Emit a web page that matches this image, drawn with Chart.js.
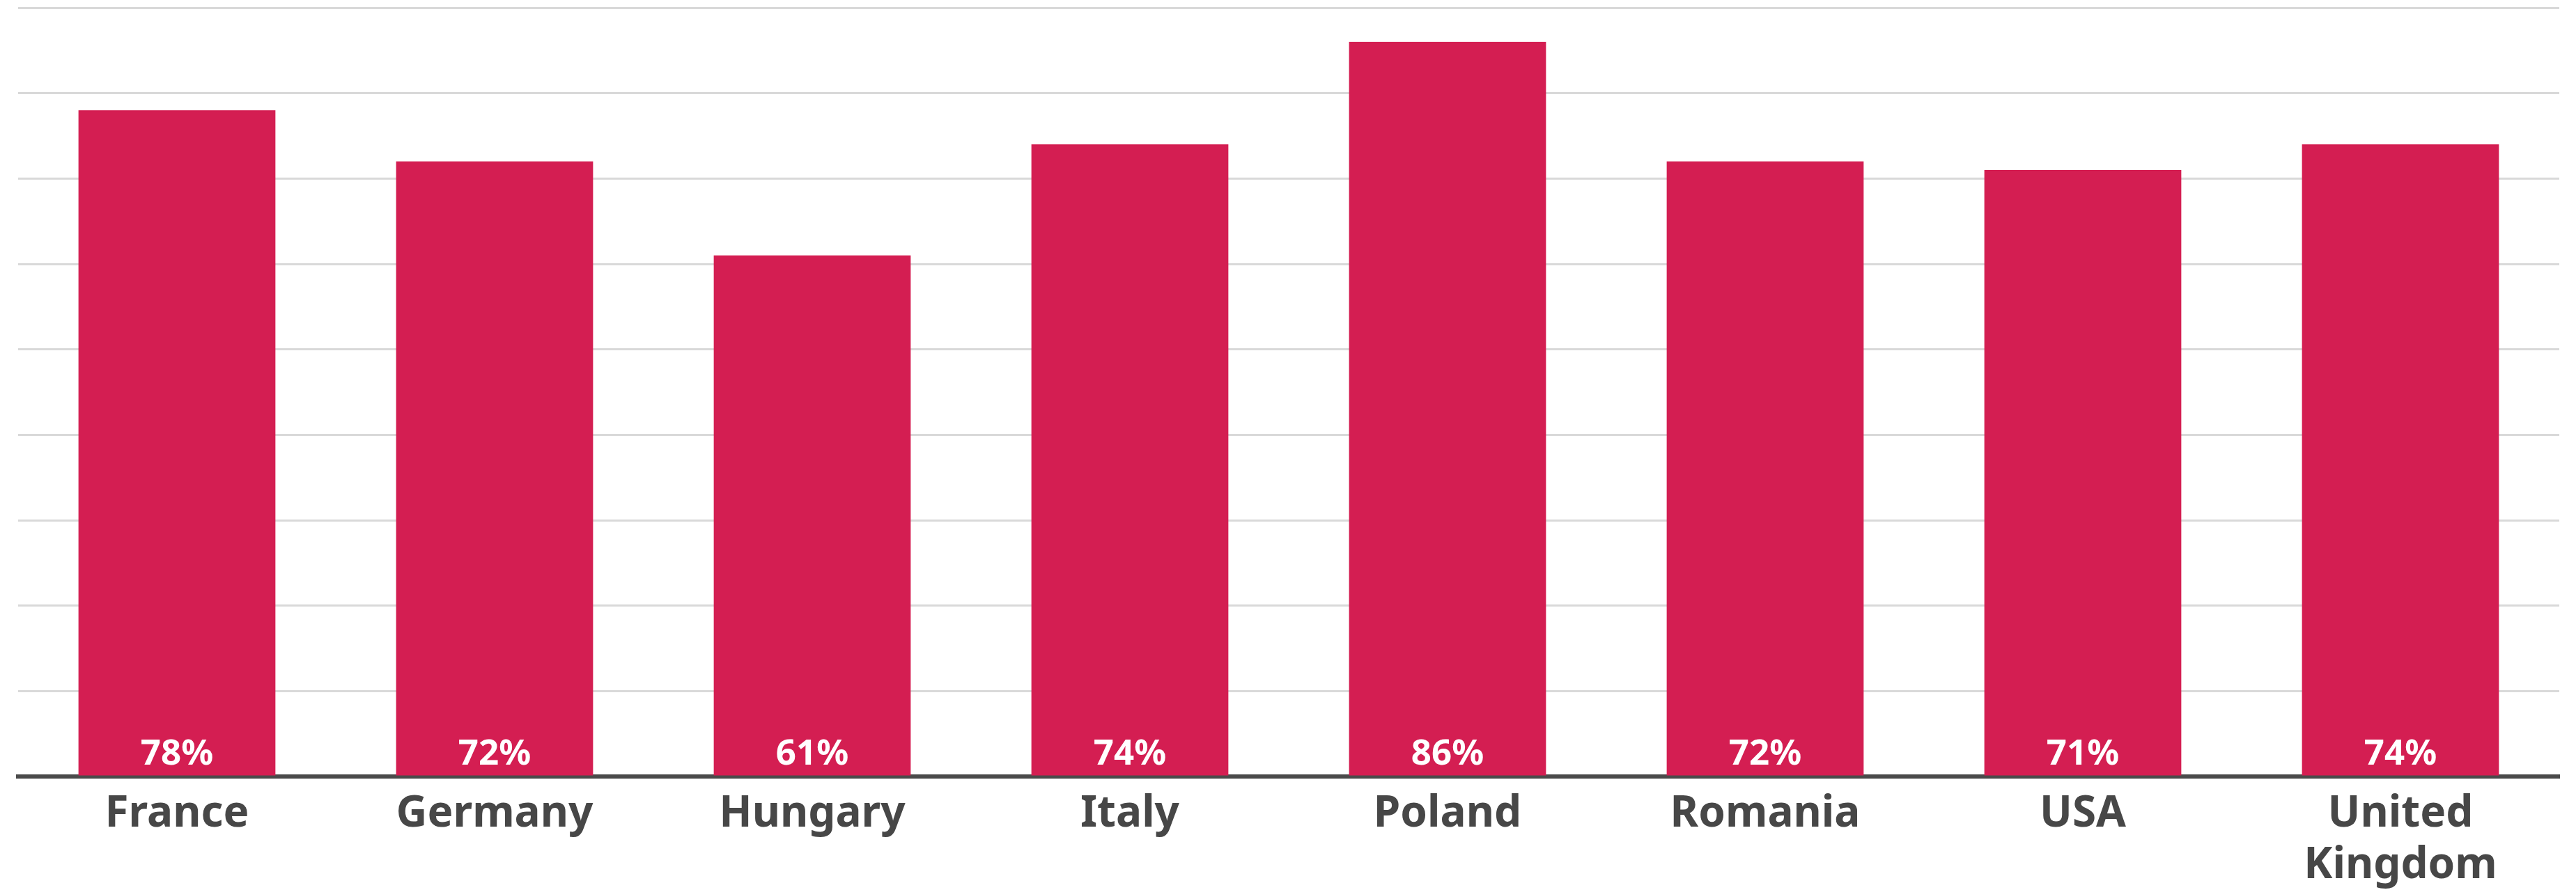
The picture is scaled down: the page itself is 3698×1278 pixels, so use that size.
<!DOCTYPE html>
<html>
<head>
<meta charset="utf-8">
<script src="https://cdn.jsdelivr.net/npm/chart.js@4"></script>
<style>
  html, body { margin: 0; padding: 0; background: #fff; }
  #wrap { width: 3698px; height: 1278px; }
</style>
</head>
<body>
<div id="wrap"><canvas id="barChart" width="3698" height="1278"></canvas></div>
<script>
// datos del grafico
const countries = ['France', 'Germany', 'Hungary', 'Italy', 'Poland', 'Romania', 'USA', ['United', 'Kingdom']];
const shares = [78, 72, 61, 74, 86, 72, 71, 74];
const yMax = 90;
const yStep = 10;

// etiquetas de valor dentro de la barra, cerca de la base
const valueLabels = {
    id: 'valueLabels',
    afterDatasetsDraw(chart) {
        const ctx = chart.ctx;
        const meta = chart.getDatasetMeta(0);
        const base = chart.scales.y.getPixelForValue(0);
        ctx.save();
        ctx.fillStyle = '#ffffff';
        ctx.font = 'bold 51px "Noto Sans", sans-serif';
        ctx.textAlign = 'center';
        ctx.textBaseline = 'middle';
        meta.data.forEach((bar, i) => {
            ctx.fillText(shares[i] + '%', bar.x, base - 32);
        });
        ctx.restore();
    }
};

new Chart(document.getElementById('barChart'), {
    type: 'bar',
    data: {
        labels: countries,
        datasets: [{
            data: shares,
            backgroundColor: '#d41e52',
            borderWidth: 0,
            barPercentage: 0.62,
            categoryPercentage: 1.0
        }]
    },
    options: {
        responsive: false,
        animation: false,
        layout: { padding: { top: 11, left: 26, right: 24, bottom: 0 } },
        plugins: {
            legend: { display: false },
            tooltip: { enabled: false }
        },
        scales: {
            x: {
                // alto fijo del eje para que la base quede donde en la imagen
                afterFit: (scale) => { scale.height = 163; },
                grid: { display: false },
                border: { display: true, color: '#4a4a4a', width: 6 },
                ticks: {
                    color: '#474747',
                    font: { family: '"Noto Sans", sans-serif', size: 62, weight: 'bold', lineHeight: 1.2 },
                    padding: 9,
                    maxRotation: 0,
                    autoSkip: false
                }
            },
            y: {
                min: 0,
                max: yMax,
                ticks: { display: false, stepSize: yStep },
                border: { display: false },
                grid: { color: '#d9d9d9', lineWidth: 3, drawTicks: false }
            }
        }
    },
    plugins: [valueLabels]
});
</script>
</body>
</html>
